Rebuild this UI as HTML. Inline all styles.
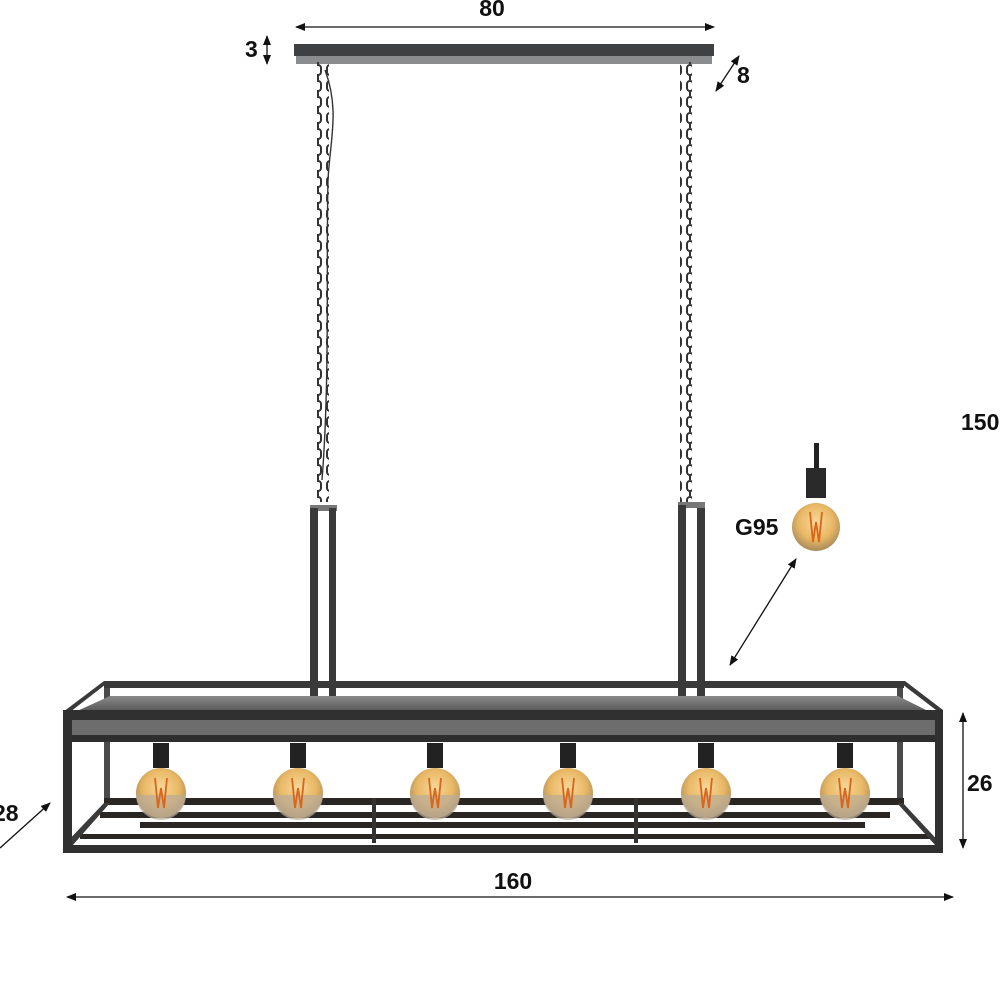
<!DOCTYPE html>
<html><head><meta charset="utf-8"><style>
html,body{margin:0;padding:0;background:#fff;}
svg{display:block}
text{font-family:"Liberation Sans",sans-serif;font-weight:bold;fill:#111}
</style></head><body>
<svg width="1000" height="1000" viewBox="0 0 1000 1000" xmlns="http://www.w3.org/2000/svg">
<defs>
<marker id="ah" markerWidth="10" markerHeight="8" refX="9" refY="4" orient="auto-start-reverse" markerUnits="userSpaceOnUse"><path d="M0,0 L10,4 L0,8 Z" fill="#111"/></marker>
<pattern id="chain" x="0" y="0" width="12" height="16" patternUnits="userSpaceOnUse">
<rect x="3" y="1" width="6" height="10" rx="3" fill="none" stroke="#333" stroke-width="2"/>
<line x1="6" y1="10" x2="6" y2="17" stroke="#333" stroke-width="2"/>
</pattern>
<radialGradient id="bulb" cx="50%" cy="40%" r="60%"><stop offset="0" stop-color="#f7d79a"/><stop offset="0.6" stop-color="#e9b865"/><stop offset="1" stop-color="#a88a5a"/></radialGradient>
<linearGradient id="shelf" x1="0" y1="0" x2="0" y2="1"><stop offset="0" stop-color="#8a8a8a"/><stop offset="1" stop-color="#555"/></linearGradient>
<g id="b">
<rect x="-8" y="743" width="16" height="25" fill="#222"/>
<circle cx="0" cy="793" r="25" fill="url(#bulb)"/>
<path d="M-25,795 A25,25 0 0 0 25,795 Z" fill="#b9ad9a" opacity="0.7"/>
<path d="M-6,778 l3,30 l3,-20 l3,20 l3,-30" stroke="#d9661a" stroke-width="1.8" fill="none"/>
</g>
</defs>

<!-- dimension 80 -->
<line x1="296" y1="27" x2="714" y2="27" stroke="#111" stroke-width="1.3" marker-start="url(#ah)" marker-end="url(#ah)"/>
<text x="492" y="16" font-size="23" text-anchor="middle">80</text>
<!-- ceiling plate -->
<rect x="294" y="44" width="420" height="12" fill="#3e4042"/>
<rect x="296" y="56" width="416" height="8" fill="#8a8c8e"/>
<text x="245" y="57" font-size="23">3</text>
<line x1="267" y1="36" x2="267" y2="64" stroke="#111" stroke-width="1.3" marker-start="url(#ah)" marker-end="url(#ah)"/>
<line x1="716" y1="91" x2="739" y2="56" stroke="#111" stroke-width="1.3" marker-start="url(#ah)" marker-end="url(#ah)"/>
<text x="737" y="83" font-size="23">8</text>

<!-- chains -->
<rect x="317" y="62" width="12" height="440" fill="url(#chain)"/>
<path d="M325 70 C340 110 330 140 328 180 C326 260 330 380 322 480" stroke="#333" fill="none" stroke-width="1.4"/>
<rect x="680" y="62" width="12" height="440" fill="url(#chain)"/>

<!-- hangers -->
<rect x="310" y="505" width="27" height="6" fill="#777"/>
<rect x="310" y="508" width="8" height="232" fill="#3a3a3a"/>
<rect x="329" y="508" width="7" height="198" fill="#3a3a3a"/>
<rect x="678" y="502" width="27" height="6" fill="#777"/>
<rect x="678" y="505" width="8" height="200" fill="#3a3a3a"/>
<rect x="697" y="508" width="8" height="232" fill="#3a3a3a"/>

<!-- back frame -->
<rect x="104" y="681" width="800" height="7" fill="#3a3a3a"/>
<polygon points="104,681 110,681 70,712 63,712" fill="#3a3a3a"/>
<polygon points="898,681 905,681 943,710 936,710" fill="#3a3a3a"/>
<rect x="104" y="688" width="6" height="115" fill="#4a4a4a"/>
<rect x="897" y="688" width="6" height="115" fill="#4a4a4a"/>
<!-- shelf -->
<polygon points="110,696 898,696 930,712 75,712" fill="url(#shelf)"/>
<rect x="70" y="720" width="867" height="15" fill="#6d6d6d"/>
<rect x="70" y="735" width="867" height="7" fill="#2e2e2e"/>
<rect x="63" y="710" width="880" height="10" fill="#303030"/>

<!-- lower grid -->
<rect x="104" y="798" width="800" height="7" fill="#2a2623"/>
<rect x="100" y="812" width="790" height="6" fill="#2a2623"/>
<rect x="140" y="822" width="725" height="6" fill="#2a2623"/>
<rect x="80" y="834" width="850" height="5" fill="#2a2623"/>
<polygon points="104,803 110,803 72,846 63,846" fill="#3a3a3a"/>
<polygon points="897,803 903,803 943,846 936,846" fill="#3a3a3a"/>
<rect x="372" y="798" width="4" height="45" fill="#333"/>
<rect x="634" y="798" width="4" height="45" fill="#333"/>
<!-- front frame -->
<rect x="63" y="710" width="9" height="143" fill="#303030"/>
<rect x="935" y="710" width="8" height="143" fill="#303030"/>
<rect x="63" y="845" width="880" height="8" fill="#303030"/>

<!-- bulbs -->
<use href="#b" x="161"/>
<use href="#b" x="298"/>
<use href="#b" x="435"/>
<use href="#b" x="568"/>
<use href="#b" x="706"/>
<use href="#b" x="845"/>

<!-- G95 -->
<rect x="814" y="443" width="5" height="28" fill="#222"/>
<rect x="806" y="468" width="20" height="30" fill="#2a2a2a"/>
<circle cx="816" cy="527" r="24" fill="url(#bulb)"/>
<path d="M810,512 l3,30 l3,-20 l3,20 l3,-30" stroke="#d9661a" stroke-width="1.8" fill="none"/>
<text x="735" y="535" font-size="23">G95</text>
<line x1="796" y1="559" x2="730" y2="665" stroke="#111" stroke-width="1.3" marker-start="url(#ah)" marker-end="url(#ah)"/>

<text x="961" y="430" font-size="23">150</text>

<!-- 26 -->
<line x1="963" y1="713" x2="963" y2="848" stroke="#111" stroke-width="1.3" marker-start="url(#ah)" marker-end="url(#ah)"/>
<text x="967" y="791" font-size="23">26</text>
<!-- 160 -->
<line x1="67" y1="897" x2="953" y2="897" stroke="#111" stroke-width="1.3" marker-start="url(#ah)" marker-end="url(#ah)"/>
<text x="513" y="889" font-size="23" text-anchor="middle">160</text>
<!-- 28 -->
<text x="-7" y="821" font-size="23">28</text>
<line x1="0" y1="848" x2="50" y2="803" stroke="#111" stroke-width="1.3" marker-end="url(#ah)"/>
</svg>
</body></html>
